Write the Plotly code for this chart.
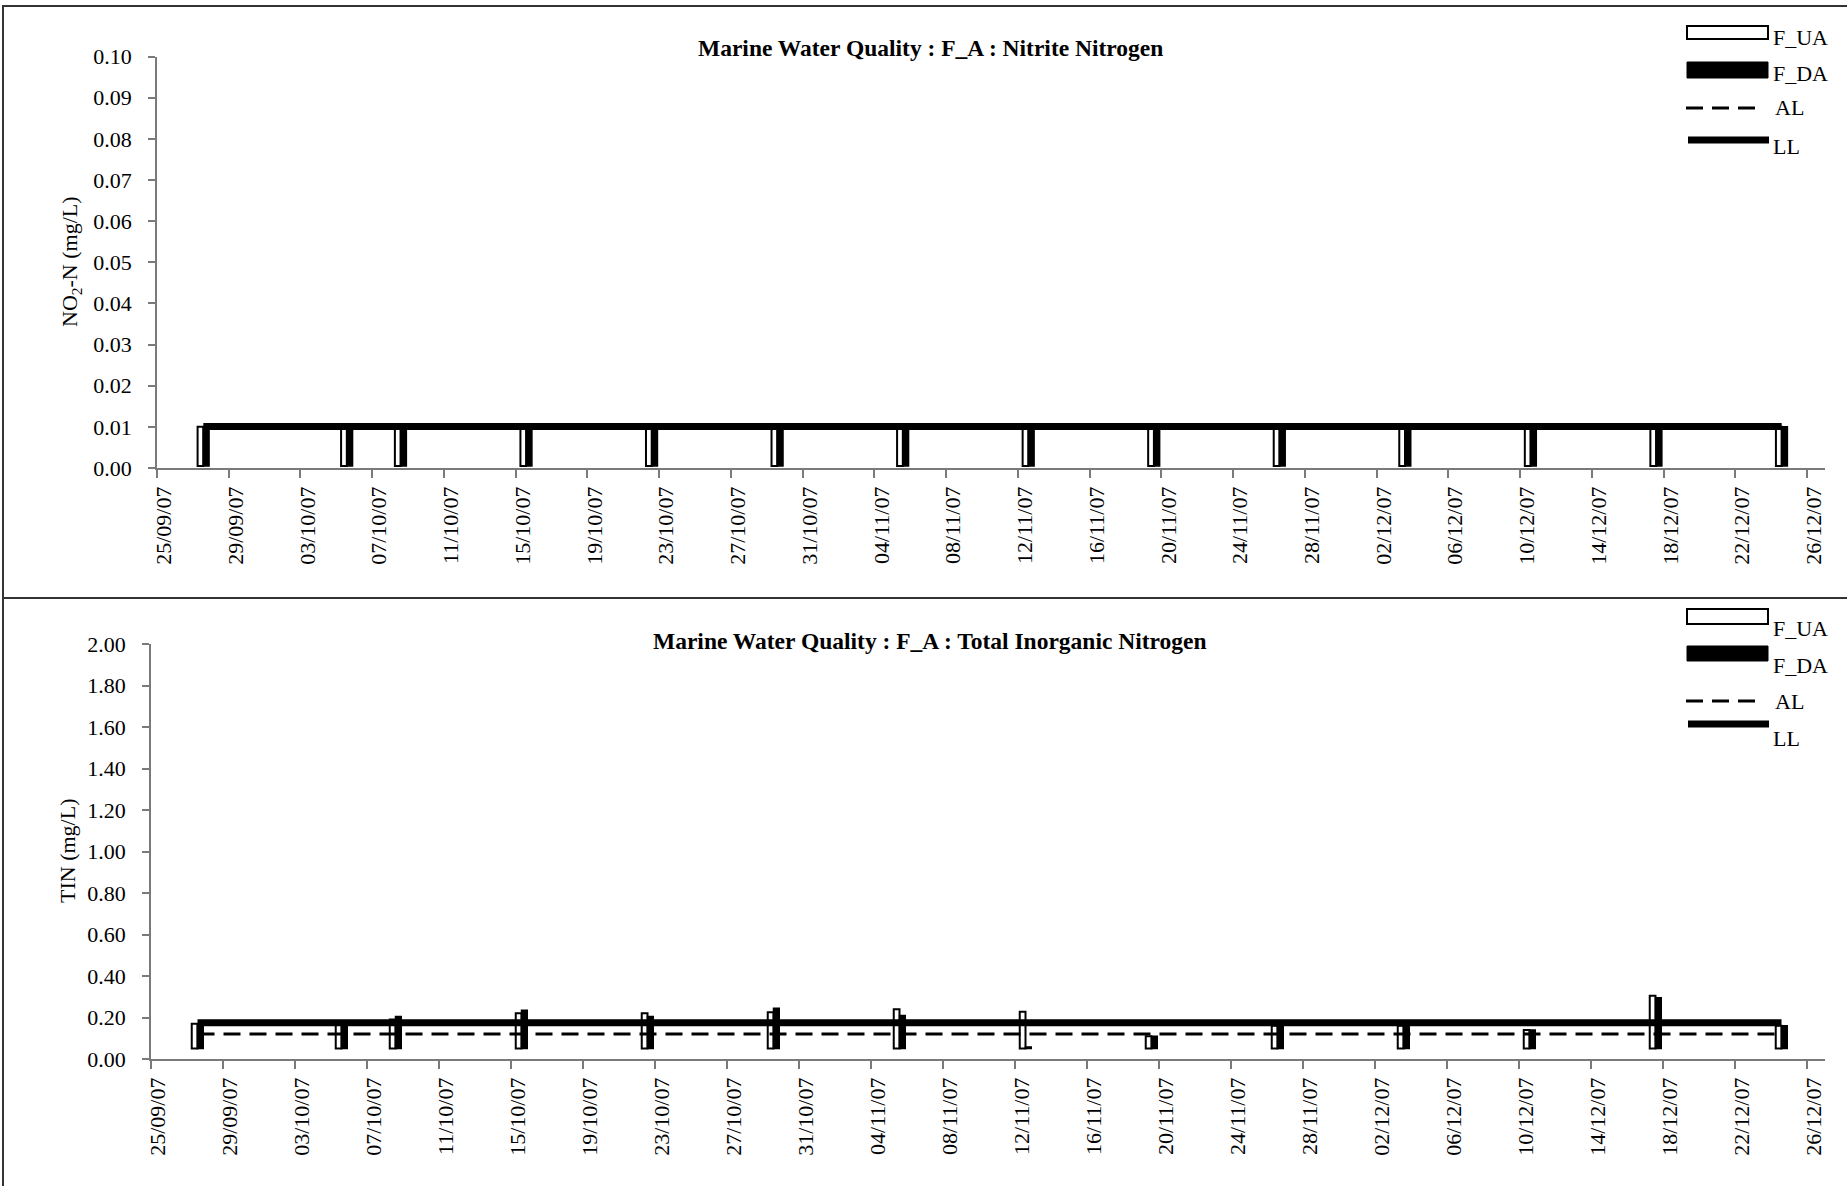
import pandas as pd
import plotly.graph_objects as go

# ---------------- data ----------------
dates = ["2007-09-27", "2007-10-05", "2007-10-08", "2007-10-15", "2007-10-22",
         "2007-10-29", "2007-11-05", "2007-11-12", "2007-11-19", "2007-11-26",
         "2007-12-03", "2007-12-10", "2007-12-17", "2007-12-24"]

no2_f_ua = [0.01, 0.01, 0.01, 0.01, 0.01, 0.01, 0.01, 0.01, 0.01, 0.01, 0.01, 0.01, 0.01, 0.01]
no2_f_da = [0.01, 0.01, 0.01, 0.01, 0.01, 0.01, 0.01, 0.01, 0.01, 0.01, 0.01, 0.01, 0.01, 0.01]
no2_al = [0.0097, 0.0097, 0.0097, 0.0097, 0.0097, 0.0097, 0.0097, 0.0097, 0.0097, 0.0097, 0.0097, 0.0097, 0.0097, 0.0097]
no2_ll = [0.0101, 0.0101, 0.0101, 0.0101, 0.0101, 0.0101, 0.0101, 0.0101, 0.0101, 0.0101, 0.0101, 0.0101, 0.0101, 0.0101]

tin_f_ua = [0.17, 0.17, 0.19, 0.22, 0.22, 0.225, 0.24, 0.228, 0.11, 0.16, 0.16, 0.14, 0.305, 0.16]
tin_f_da = [0.17, 0.17, 0.205, 0.235, 0.205, 0.245, 0.21, 0.058, 0.11, 0.16, 0.16, 0.14, 0.295, 0.16]
tin_al = [0.12, 0.12, 0.12, 0.12, 0.12, 0.12, 0.12, 0.12, 0.12, 0.12, 0.12, 0.12, 0.12, 0.12]
tin_ll = [0.175, 0.175, 0.175, 0.175, 0.175, 0.175, 0.175, 0.175, 0.175, 0.175, 0.175, 0.175, 0.175, 0.175]

titles = ["Marine Water Quality : F_A : Nitrite Nitrogen",
          "Marine Water Quality : F_A : Total Inorganic Nitrogen"]
ytitles = ["NO<sub>2</sub>-N (mg/L)", "TIN (mg/L)"]
legend_names = ["F_UA", "F_DA", "AL", "LL"]

# ---------------- style ----------------
W, H = 1847, 1186
FONT = "Liberation Serif, Times New Roman, serif"
DAY_MS = 86400000
BAR_W = 0.32 * DAY_MS
SHIFT = pd.Timedelta(hours=14)
AXIS_COL = "#7a7a7a"

def px(x):
    return x / W

def py(y):
    return 1 - y / H

xpos = pd.to_datetime(pd.Series(dates)) + SHIFT

fig = go.Figure()

panels = [
    dict(ua=no2_f_ua, da=no2_f_da, al=no2_al, ll=no2_ll, base=0.0005,
         xa="x", ya="y", yrange=[0, 0.1], dtick=0.01,
         xdom=[px(157), px(1825)], ydom=[py(468), py(56.5)]),
    dict(ua=tin_f_ua, da=tin_f_da, al=tin_al, ll=tin_ll, base=0.05,
         xa="x2", ya="y2", yrange=[0, 2.0], dtick=0.2,
         xdom=[px(151), px(1825)], ydom=[py(1059), py(644)]),
]

for p in panels:
    b = p["base"]
    fig.add_trace(go.Bar(
        x=xpos, y=[v - b for v in p["ua"]], base=b, width=BAR_W, offset=-BAR_W,
        marker=dict(color="white", line=dict(color="black", width=2)),
        xaxis=p["xa"], yaxis=p["ya"], showlegend=False, name="F_UA"))
    fig.add_trace(go.Bar(
        x=xpos, y=[v - b for v in p["da"]], base=b, width=BAR_W, offset=0,
        marker=dict(color="black", line=dict(color="black", width=1.5)),
        xaxis=p["xa"], yaxis=p["ya"], showlegend=False, name="F_DA"))
    fig.add_trace(go.Scatter(
        x=xpos, y=p["al"], mode="lines",
        line=dict(color="black", width=3, dash="17px,9px"),
        xaxis=p["xa"], yaxis=p["ya"], showlegend=False, name="AL"))
    fig.add_trace(go.Scatter(
        x=xpos, y=p["ll"], mode="lines",
        line=dict(color="black", width=7),
        xaxis=p["xa"], yaxis=p["ya"], showlegend=False, name="LL"))

axis_common = dict(showgrid=False, zeroline=False, showline=True, automargin=False,
                   linecolor=AXIS_COL, linewidth=1.5, ticks="outside",
                   tickcolor=AXIS_COL, tickwidth=1.5,
                   tickfont=dict(family=FONT, size=22, color="black"))

layout = dict(
    width=W, height=H, autosize=False,
    margin=dict(l=0, r=0, t=0, b=0, pad=0, autoexpand=False),
    paper_bgcolor="white", plot_bgcolor="white",
    barmode="overlay", font=dict(family=FONT, color="black"),
    showlegend=False,
)

for i, p in enumerate(panels):
    sx = "" if i == 0 else "2"
    layout["xaxis" + sx] = dict(
        axis_common, type="date", domain=p["xdom"], anchor="y" + sx,
        range=["2007-09-25", "2007-12-27"], tick0="2007-09-25",
        dtick=4 * DAY_MS, tickformat="%d/%m/%y", tickangle=-90, ticklen=8,
        ticklabelshift=7)
    layout["yaxis" + sx] = dict(
        axis_common, domain=p["ydom"], anchor="x" + sx, range=p["yrange"],
        dtick=p["dtick"], tickformat=".2f", ticklen=7, ticklabelstandoff=12)

fig.update_layout(**layout)

# frames around each chart area
fig.add_shape(type="rect", xref="paper", yref="paper",
              x0=px(3), x1=px(1860), y0=py(598), y1=py(6),
              line=dict(color="#333333", width=2), fillcolor="rgba(0,0,0,0)", layer="below")
fig.add_shape(type="rect", xref="paper", yref="paper",
              x0=px(3), x1=px(1860), y0=py(1200), y1=py(598),
              line=dict(color="#333333", width=2), fillcolor="rgba(0,0,0,0)", layer="below")

# titles and y-axis titles
title_y = [48, 641]
ytitle_pos = [(71, 262), (67, 851)]
for i in range(2):
    fig.add_annotation(xref="paper", yref="paper", x=px(930), y=py(title_y[i]),
                       text="<b>" + titles[i] + "</b>", showarrow=False,
                       font=dict(family=FONT, size=23.5, color="black"),
                       xanchor="center", yanchor="middle")
    fig.add_annotation(xref="paper", yref="paper", x=px(ytitle_pos[i][0]), y=py(ytitle_pos[i][1]),
                       text=ytitles[i], showarrow=False, textangle=-90,
                       font=dict(family=FONT, size=22, color="black"),
                       xanchor="center", yanchor="middle")

# custom legends (wide symbols like the original)
legends = [
    dict(ua=(26, 39), ua_t=37, da=(62, 78), da_t=73, al=108, al_t=108, ll=140, ll_t=146),
    dict(ua=(609, 624), ua_t=628, da=(646, 661), da_t=665, al=701, al_t=701, ll=724, ll_t=739),
]
for lg in legends:
    fig.add_shape(type="rect", xref="paper", yref="paper",
                  x0=px(1687), x1=px(1768), y0=py(lg["ua"][1]), y1=py(lg["ua"][0]),
                  line=dict(color="black", width=2), fillcolor="white")
    fig.add_shape(type="rect", xref="paper", yref="paper",
                  x0=px(1687), x1=px(1768), y0=py(lg["da"][1]), y1=py(lg["da"][0]),
                  line=dict(color="black", width=1), fillcolor="black")
    fig.add_shape(type="line", xref="paper", yref="paper",
                  x0=px(1686), x1=px(1760), y0=py(lg["al"]), y1=py(lg["al"]),
                  line=dict(color="black", width=3, dash="17px,9px"))
    fig.add_shape(type="line", xref="paper", yref="paper",
                  x0=px(1688), x1=px(1769), y0=py(lg["ll"]), y1=py(lg["ll"]),
                  line=dict(color="black", width=7))
    for name, ty, tx in [(legend_names[0], lg["ua_t"], 1771), (legend_names[1], lg["da_t"], 1771),
                         (legend_names[2], lg["al_t"], 1773), (legend_names[3], lg["ll_t"], 1771)]:
        fig.add_annotation(xref="paper", yref="paper", x=px(tx), y=py(ty), text=name,
                           showarrow=False, xanchor="left", yanchor="middle",
                           font=dict(family=FONT, size=22, color="black"))

POST = ("document.documentElement.style.margin='0';document.documentElement.style.padding='0';"
        "document.body.style.margin='0';document.body.style.padding='0';"
        "document.body.style.overflow='hidden';document.documentElement.style.overflow='hidden';"
        "var gd=document.getElementById('{plot_id}');gd.style.position='fixed';"
        "gd.style.left='0px';gd.style.top='0px';")

fig.write_html("out.html", config={"displayModeBar": False}, post_script=POST)
